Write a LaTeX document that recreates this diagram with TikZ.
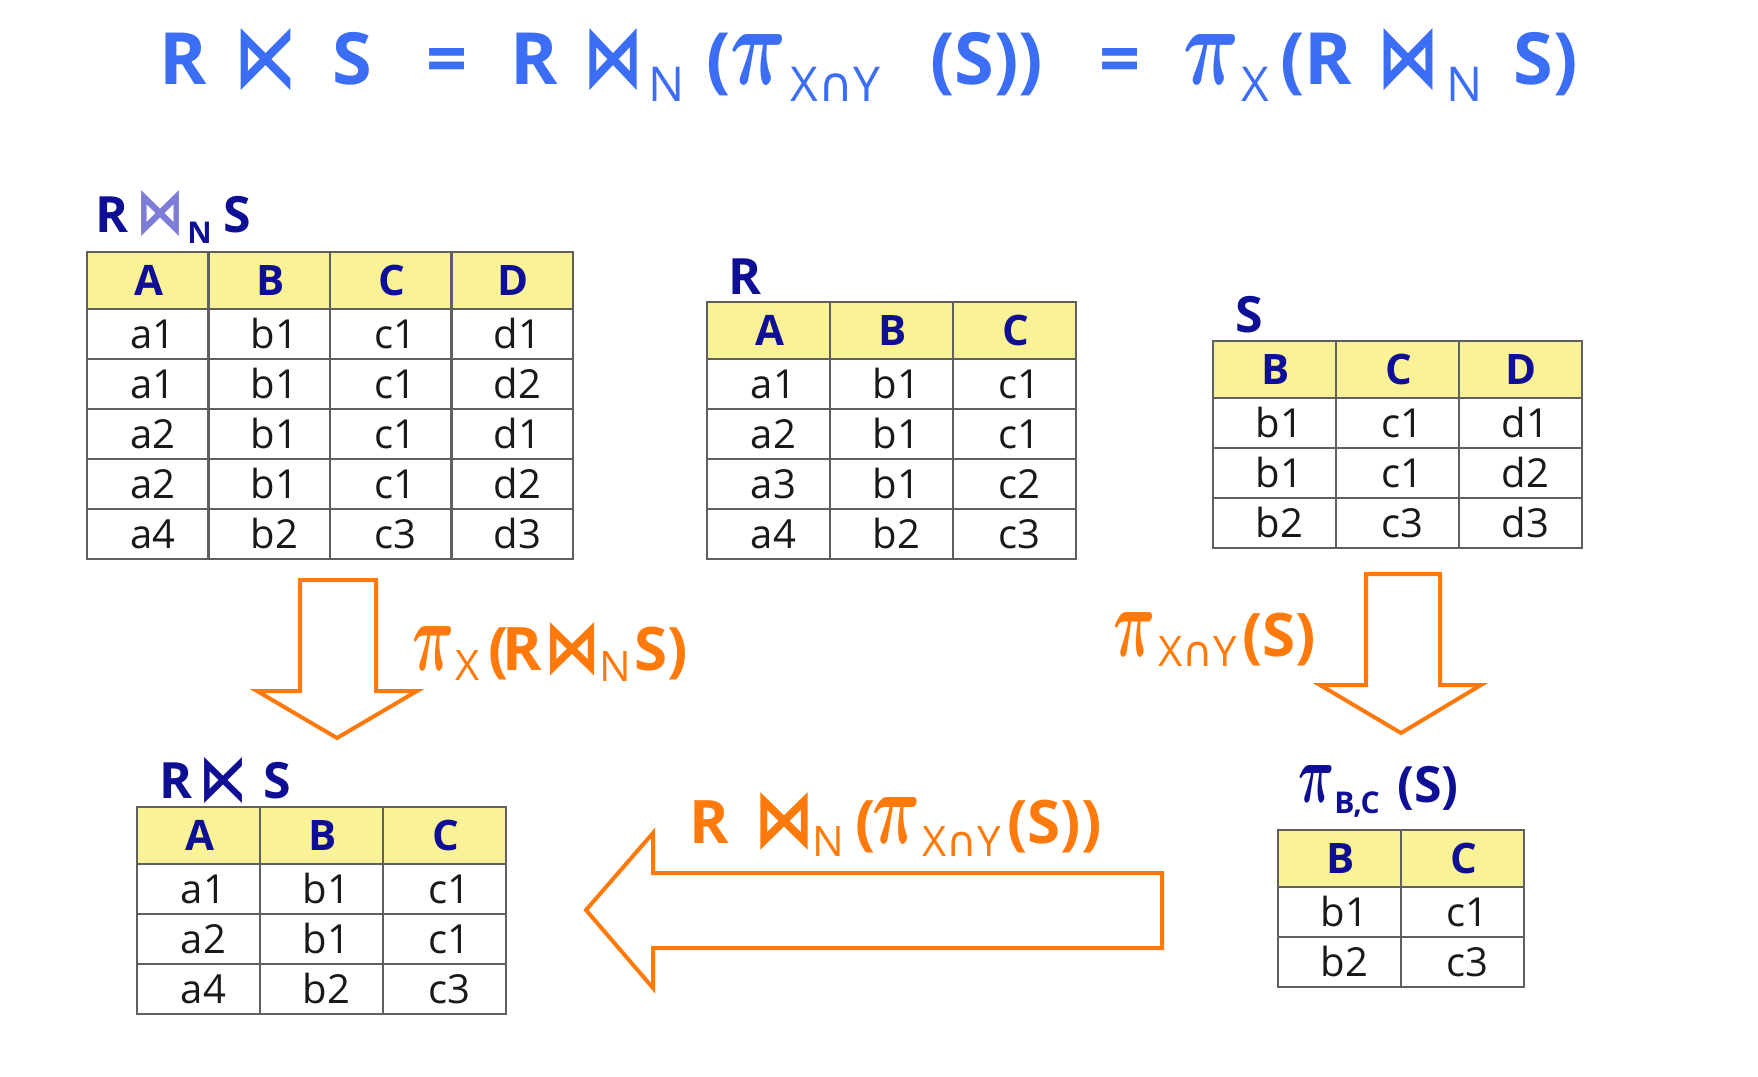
\documentclass[tikz,border=0pt]{standalone}
\usepackage{fontspec}
\usepackage{graphicx}
\setmainfont{Open Sans}
\newfontfamily\dvsans{DejaVu Sans}
\usetikzlibrary{calc}

\definecolor{navy}{RGB}{15,15,150}
\definecolor{hdrfill}{RGB}{250,242,150}
\definecolor{gridgray}{RGB}{95,95,95}
\definecolor{titleblue}{RGB}{60,110,245}
\definecolor{orng}{RGB}{255,122,10}
\definecolor{lightbt}{RGB}{125,125,215}

\newlength\pxl
\setlength\pxl{0.5pt}
\newcommand\pisym[2]{\resizebox{#1\pxl}{#2\pxl}{\boldmath$\pi$}}
\newcommand\bwt[2]{\resizebox{#1\pxl}{#2\pxl}{\dvsans ⋈}}
\newcommand\lsemi[2]{\resizebox{#1\pxl}{#2\pxl}{\dvsans ⋉}}
\newcommand\capsym{{\dvsans ∩}}

\tikzset{
  ttl/.style={anchor=base west, inner sep=0pt, text=titleblue, font=\bfseries\fontsize{36}{40}\selectfont},
  ttlsub/.style={anchor=base west, inner sep=0pt, text=titleblue, font=\fontsize{24}{26}\selectfont},
  lbl/.style={anchor=base west, inner sep=0pt, text=orng, font=\bfseries\fontsize{30}{34}\selectfont},
  lblsub/.style={anchor=base west, inner sep=0pt, text=orng, font=\fontsize{21}{23}\selectfont},
  tname/.style={anchor=base west, inner sep=0pt, text=navy, font=\bfseries\fontsize{25}{28}\selectfont},
  tnamesub/.style={anchor=base west, inner sep=0pt, text=navy, font=\bfseries\fontsize{15}{17}\selectfont},
  hdr/.style={anchor=base, inner sep=0pt, text=navy, font=\bfseries\fontsize{21}{24}\selectfont},
  cell/.style={anchor=base, inner sep=0pt, text={black!90}, font=\fontsize{20}{24}\selectfont},
  grid/.style={draw=gridgray, line width=1.1pt},
  blockarrow/.style={draw=orng, line width=2pt, line join=miter, fill=white}
}

% #1 name, #2 x0, #3 y0, #4 column width, #5 columns, #6 data rows, #7 headers, #8 rows
\newcommand\mktable[8]{%
  \fill[hdrfill] (#2,#3) rectangle ++({#4*#5},57);
  \foreach \h [count=\c] in {#7} {
    \node[hdr] (#1-h\c) at ({#2+(\c-0.5)*#4+1},{#3+28.5+15}) {\h};
  }
  \foreach \r [count=\i] in {#8} {
    \foreach \v [count=\c] in \r {
      \node[cell] (#1-\i-\c) at ({#2+(\c-0.5)*#4+5},{#3+57+(\i-0.5)*50+14.5}) {\v};
    }
  }
  \foreach \k in {1,...,#6} {
    \draw[grid] (#2,{#3+57+50*(\k-1)}) -- ++({#4*#5},0);
  }
  \pgfmathtruncatemacro\lastc{#5-1}
  \foreach \k in {1,...,\lastc} {
    \draw[grid] ({#2+#4*\k},#3) -- ++(0,{57+50*#6});
  }
  \draw[grid] (#2,#3) rectangle ++({#4*#5},{57+50*#6});
}

\begin{document}
\begin{tikzpicture}[x=0.5pt,y=-0.5pt]
\useasboundingbox (0,0) rectangle (1758,1077);
\fill[white] (0,0) rectangle (1758,1077);

% ---- title formula ----
\node[ttl] (tR1) at (159,84) {R};
\node[ttl] (tJ1) at (234,86) {\lsemi{63}{58}};
\node[ttl] (tS1) at (332,84) {S};
\node[ttl] (tE1) at (426,84) {=};
\node[ttl] (tR2) at (510,84) {R};
\node[ttl] (tJ2) at (583,86) {\bwt{60}{58}};
\node[ttlsub] (tN2) at (648,101) {N};
\node[ttl] (tO1) at (706,84) {(};
\node[ttl] (tP1) at (730,84) {\pisym{56}{50}};
\node[ttlsub] (tX1) at (790,101) {X\capsym Y};
\node[ttl] (tS2) at (930,84) {(S))};
\node[ttl] (tE2) at (1099,84) {=};
\node[ttl] (tP2) at (1183,84) {\pisym{56}{50}};
\node[ttlsub] (tX2) at (1241,101) {X};
\node[ttl] (tR3) at (1280,84) {(R};
\node[ttl] (tJ3) at (1377,86) {\bwt{62}{58}};
\node[ttlsub] (tN3) at (1446,101) {N};
\node[ttl] (tS3) at (1513,84) {S)};

% ---- table R join_N S ----
\node[tname] (n1R) at (95,232) {R};
\node[tname, text=lightbt] (n1J) at (136,233) {\bwt{48}{43}};
\node[tnamesub] (n1N) at (187,243) {N};
\node[tname] (n1S) at (223,232) {S};
\mktable{T1}{87}{252}{121.5}{4}{5}{A,B,C,D}{{a1,b1,c1,d1},{a1,b1,c1,d2},{a2,b1,c1,d1},{a2,b1,c1,d2},{a4,b2,c3,d3}}

% ---- table R ----
\node[tname] (n2R) at (728,294) {R};
\mktable{TR}{707}{302}{123}{3}{4}{A,B,C}{{a1,b1,c1},{a2,b1,c1},{a3,b1,c2},{a4,b2,c3}}

% ---- table S ----
\node[tname] (n3S) at (1235,332) {S};
\mktable{TS}{1213}{341}{123}{3}{3}{B,C,D}{{b1,c1,d1},{b1,c1,d2},{b2,c3,d3}}

% ---- table R semijoin S ----
\node[tname] (n4R) at (159,798) {R};
\node[tname] (n4J) at (199,800) {\lsemi{48}{43}};
\node[tname] (n4S) at (263,798) {S};
\mktable{TRS}{137}{807}{123}{3}{3}{A,B,C}{{a1,b1,c1},{a2,b1,c1},{a4,b2,c3}}

% ---- table pi_{B,C}(S) ----
\node[tname] (n5P) at (1298,802) {\pisym{36}{37}};
\node[tnamesub] (n5B) at (1334,813) {B,C};
\node[tname] (n5S) at (1397,802) {(S)};
\mktable{TP}{1278}{830}{123}{2}{2}{B,C}{{b1,c1},{b2,c3}}

% ---- block arrows ----
\draw[blockarrow] (300,580) -- (376,580) -- (376,691) -- (417,691) -- (337,738) -- (257,691) -- (300,691) -- cycle;
\draw[blockarrow] (1366,574) -- (1440,574) -- (1440,685) -- (1481,685) -- (1401,733) -- (1320,685) -- (1366,685) -- cycle;
\draw[blockarrow] (1162,873) -- (653,873) -- (653,833) -- (586,910) -- (653,988) -- (653,948) -- (1162,948) -- cycle;

% ---- arrow labels ----
\node[lbl] (l1P) at (412,670) {\pisym{42}{44}};
\node[lblsub] (l1X) at (455,680) {X};
\node[lbl] (l1O) at (488,670) {(};
\node[lbl] (l1R) at (502,670) {R};
\node[lbl] (l1J) at (544,672) {\bwt{56}{50}};
\node[lblsub] (l1N) at (599,681) {N};
\node[lbl] (l1S) at (634,670) {S)};

\node[lbl] (l2P) at (1113,656) {\pisym{42}{44}};
\node[lblsub] (l2X) at (1158,666) {X\capsym Y};
\node[lbl] (l2S) at (1242,656) {(S)};

\node[lbl] (l3R) at (689,843) {R};
\node[lbl] (l3J) at (754,846) {\bwt{60}{54}};
\node[lblsub] (l3N) at (812,856) {N};
\node[lbl] (l3O) at (855,843) {(};
\node[lbl] (l3P) at (872,843) {\pisym{48}{46}};
\node[lblsub] (l3X) at (922,856) {X\capsym Y};
\node[lbl] (l3S) at (1007,843) {(S))};
\end{tikzpicture}
\end{document}
